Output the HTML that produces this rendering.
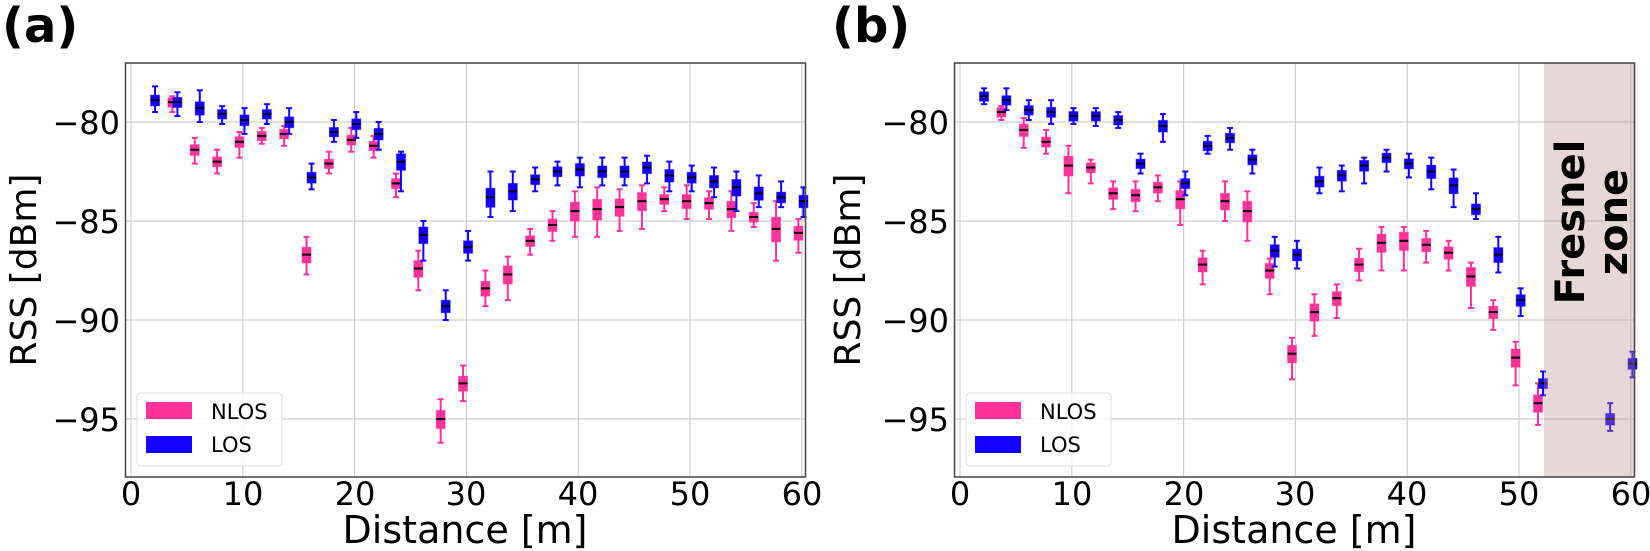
<!DOCTYPE html>
<html><head><meta charset="utf-8">
<style>
html,body{margin:0;padding:0;background:#fff;}
svg{display:block;}
text{font-family:"DejaVu Sans","Liberation Sans",sans-serif;fill:#000;}
</style></head>
<body>
<svg id="s" width="1650" height="551" viewBox="0 0 1650 551" xmlns="http://www.w3.org/2000/svg">
<rect width="1650" height="551" fill="#fff"/>
<g id="grid" stroke="#cfcfcf" stroke-width="1.2"></g>
<g id="data"></g>
<rect x="1544" y="63" width="90" height="414" fill="rgb(190,140,140)" fill-opacity="0.35"/>
<g fill="none" stroke="#444" stroke-width="1.5">
<rect x="125.5" y="63" width="680" height="414"/>
<rect x="954.5" y="63" width="680" height="414"/>
</g>
<g>
<rect x="137" y="393" width="145" height="73" rx="4" fill="#fff" fill-opacity="0.8" stroke="#ddd"/>
<rect x="146" y="402" width="46" height="17" fill="#ff3399"/>
<rect x="146" y="436" width="46" height="17" fill="#1400ff"/>
<text x="211" y="419" font-size="21">NLOS</text>
<text x="211" y="452" font-size="21">LOS</text>
<rect x="966" y="393" width="145" height="73" rx="4" fill="#fff" fill-opacity="0.8" stroke="#ddd"/>
<rect x="975" y="402" width="46" height="17" fill="#ff3399"/>
<rect x="975" y="436" width="46" height="17" fill="#1400ff"/>
<text x="1040" y="419" font-size="21">NLOS</text>
<text x="1040" y="452" font-size="21">LOS</text>
</g>
<text x="2" y="42" font-size="48" font-weight="bold">(a)</text>
<text x="832" y="42" font-size="48" font-weight="bold">(b)</text>
<g font-size="32" text-anchor="end">
<text x="120" y="134">−80</text><text x="120" y="233">−85</text><text x="120" y="332">−90</text><text x="120" y="431">−95</text>
<text x="949" y="134">−80</text><text x="949" y="233">−85</text><text x="949" y="332">−90</text><text x="949" y="431">−95</text>
</g>
<g font-size="32" text-anchor="middle">
<text x="131" y="505">0</text><text x="243" y="505">10</text><text x="355" y="505">20</text><text x="466" y="505">30</text><text x="578" y="505">40</text><text x="690" y="505">50</text><text x="802" y="505">60</text>
<text x="960" y="505">0</text><text x="1072" y="505">10</text><text x="1184" y="505">20</text><text x="1295" y="505">30</text><text x="1407" y="505">40</text><text x="1519" y="505">50</text><text x="1631" y="505">60</text>
</g>
<text x="465" y="543" font-size="38" text-anchor="middle">Distance [m]</text>
<text x="1294" y="543" font-size="38" text-anchor="middle">Distance [m]</text>
<text transform="translate(36,270) rotate(-90)" font-size="36" text-anchor="middle">RSS [dBm]</text>
<text transform="translate(860,270) rotate(-90)" font-size="36" text-anchor="middle">RSS [dBm]</text>
<text transform="translate(1584,222) rotate(-90)" font-size="40" font-weight="bold" text-anchor="middle">Fresnel</text>
<text transform="translate(1627,222) rotate(-90)" font-size="40" font-weight="bold" text-anchor="middle">zone</text>
</svg>
<script>
(function(){
var NS="http://www.w3.org/2000/svg";
var grid=document.getElementById('grid'),data=document.getElementById('data');
function el(p,t,a){var e=document.createElementNS(NS,t);for(var k in a)e.setAttribute(k,a[k]);p.appendChild(e);return e;}
function X(m,off){return 131+11.18*m+off;}
function Y(v){return 122+(-80-v)*19.8;}
[0,829].forEach(function(off){
 for(var m=0;m<=60;m+=10){var x=X(m,off);el(grid,'line',{x1:x,x2:x,y1:63,y2:477});}
 [-80,-85,-90,-95].forEach(function(v){el(grid,'line',{x1:125+off,x2:805+off,y1:Y(v),y2:Y(v)});});
});
function box(off,m,dx,med,hi,lo,col){
 var x=X(m,off)+dx*11.18;
 var h=(hi-lo)*0.22; if(h<0.25)h=0.25;
 var q3=med+h*0.9,q1=med-h;
 el(data,'line',{x1:x,x2:x,y1:Y(hi),y2:Y(lo),stroke:col,'stroke-width':2});
 el(data,'line',{x1:x-3,x2:x+3,y1:Y(hi),y2:Y(hi),stroke:col,'stroke-width':2});
 el(data,'line',{x1:x-3,x2:x+3,y1:Y(lo),y2:Y(lo),stroke:col,'stroke-width':2});
 el(data,'rect',{x:x-4.5,y:Y(q3),width:9,height:Y(q1)-Y(q3),fill:col,stroke:col,'stroke-opacity':0.5,'stroke-width':1});
 el(data,'line',{x1:x-4.5,x2:x+4.5,y1:Y(med),y2:Y(med),stroke:'#000','stroke-width':2});
}
var P='#ff3399',B='#1400ff';
var aN=[[4,-79.0,-78.7,-79.5],[6,-81.4,-80.8,-82.1],[8,-82.0,-81.4,-82.6],[10,-81.0,-80.5,-81.8],[12,-80.7,-80.3,-81.1],[14,-80.6,-80.2,-81.2],[16,-86.7,-85.8,-87.7],[18,-82.1,-81.5,-82.6],[20,-80.9,-80.3,-81.5],[22,-81.2,-80.7,-81.8],[24,-83.1,-82.6,-83.8],[26,-87.4,-86.5,-88.5],[28,-95.0,-94.0,-96.2],[30,-93.2,-92.3,-94.1],[32,-88.4,-87.5,-89.3],[34,-87.7,-86.8,-89.0],[36,-86.0,-85.4,-86.7],[38,-85.2,-84.5,-86.0],[40,-84.5,-83.5,-85.8],[42,-84.4,-83.3,-85.8],[44,-84.3,-83.4,-85.5],[46,-84.0,-83.2,-85.4],[48,-83.9,-83.3,-84.5],[50,-84.0,-83.2,-84.9],[52,-84.1,-83.5,-84.9],[54,-84.4,-83.5,-85.5],[56,-84.8,-84.1,-85.3],[58,-85.4,-84.0,-87.0],[60,-85.6,-84.9,-86.6]];
var aL=[[2,-78.9,-78.2,-79.5],[4,-79.0,-78.5,-79.7],[6,-79.3,-78.4,-80.0],[8,-79.6,-79.2,-80.1],[10,-79.9,-79.3,-80.6],[12,-79.6,-79.1,-80.1],[14,-80.0,-79.3,-80.6],[16,-82.8,-82.1,-83.4],[18,-80.5,-79.9,-81.0],[20,-80.1,-79.5,-80.8],[22,-80.6,-80.0,-81.4],[24,-82.0,-81.5,-83.5],[26,-85.7,-85.0,-87.0],[28,-89.3,-88.5,-90.0],[30,-86.3,-85.5,-87.0],[32,-83.8,-82.5,-84.8],[34,-83.5,-82.5,-84.5],[36,-82.9,-82.3,-83.5],[38,-82.5,-82.0,-83.2],[40,-82.4,-81.8,-83.3],[42,-82.5,-81.8,-83.2],[44,-82.5,-81.8,-83.2],[46,-82.3,-81.7,-83.1],[48,-82.7,-82.0,-83.5],[50,-82.8,-82.2,-83.5],[52,-83.0,-82.3,-83.8],[54,-83.3,-82.5,-84.5],[56,-83.6,-82.7,-84.3],[58,-83.8,-83.0,-84.3],[60,-84.0,-83.3,-84.8]];
var bN=[[4,-79.5,-79.2,-79.9],[6,-80.4,-79.8,-81.3],[8,-81.0,-80.4,-81.6],[10,-82.2,-81.2,-83.6],[12,-82.3,-81.9,-83.1],[14,-83.6,-83.0,-84.4],[16,-83.7,-83.0,-84.5],[18,-83.3,-82.7,-84.0],[20,-83.9,-83.0,-85.2],[22,-87.2,-86.5,-88.2],[24,-84.0,-83.0,-85.0],[26,-84.5,-83.5,-86.0],[28,-87.5,-86.9,-88.7],[30,-91.7,-90.9,-93.0],[32,-89.6,-88.7,-90.8],[34,-88.9,-88.2,-89.9],[36,-87.2,-86.4,-88.0],[38,-86.1,-85.3,-87.5],[40,-86.0,-85.3,-87.5],[42,-86.2,-85.5,-87.1],[44,-86.6,-86.0,-87.5],[46,-87.8,-87.1,-89.4],[48,-89.6,-89.0,-90.5],[50,-91.9,-91.1,-93.3],[52,-94.2,-93.2,-95.3]];
var bL=[[2,-78.7,-78.3,-79.1],[4,-78.9,-78.3,-79.4],[6,-79.4,-78.9,-79.9],[8,-79.5,-78.9,-80.1],[10,-79.7,-79.3,-80.1],[12,-79.7,-79.3,-80.2],[14,-79.9,-79.5,-80.3],[16,-82.1,-81.6,-82.6],[18,-80.2,-79.6,-81.0],[20,-83.1,-82.5,-83.7],[22,-81.2,-80.7,-81.6],[24,-80.8,-80.3,-81.4],[26,-81.9,-81.4,-82.6],[28,-86.5,-85.8,-87.3],[30,-86.7,-86.0,-87.4],[32,-83.0,-82.3,-83.6],[34,-82.7,-82.2,-83.5],[36,-82.2,-81.8,-83.1],[38,-81.8,-81.4,-82.5],[40,-82.1,-81.6,-82.8],[42,-82.5,-81.8,-83.4],[44,-83.2,-82.4,-84.3],[46,-84.4,-83.6,-84.9],[48,-86.7,-85.8,-87.6],[50,-89.0,-88.4,-89.8],[52,-93.2,-92.6,-93.8],[58,-95.0,-94.2,-95.6],[60,-92.2,-91.6,-92.9]];
aN.forEach(function(d){box(0,d[0],-0.3,d[1],d[2],d[3],P);});
aL.forEach(function(d){box(0,d[0],0.15,d[1],d[2],d[3],B);});
bN.forEach(function(d){box(829,d[0],-0.3,d[1],d[2],d[3],P);});
bL.forEach(function(d){box(829,d[0],0.15,d[1],d[2],d[3],B);});
})();
</script>
</body></html>
